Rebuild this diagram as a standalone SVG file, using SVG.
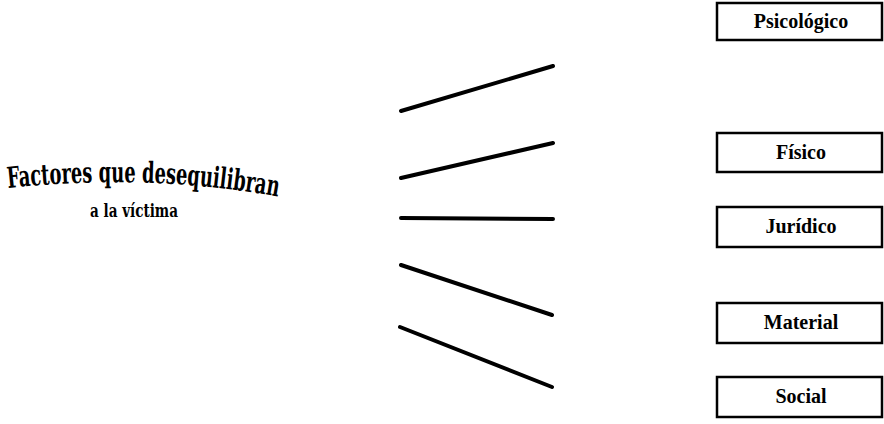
<svg xmlns="http://www.w3.org/2000/svg" width="884" height="424" viewBox="0 0 884 424">
<style>
.box{fill:#fff;stroke:#000;stroke-width:2.5}
.lbl{font-family:"Liberation Serif","DejaVu Serif",serif;font-weight:bold;font-size:20px;text-anchor:middle}
.title{font-family:"DejaVu Serif Condensed","DejaVu Serif",serif;font-weight:bold}
.conn line{stroke:#000;stroke-width:4;stroke-linecap:round}
</style>
<defs>
<path id="arc" d="M8,188 Q150,173 280,197" fill="none"/>
</defs>
<rect width="884" height="424" fill="#fff"/>
<g id="title">
<text class="title" font-size="29"><textPath href="#arc" textLength="271" lengthAdjust="spacingAndGlyphs">Factores que desequilibran</textPath></text>
<text class="title" x="90" y="217" font-size="19" textLength="88" lengthAdjust="spacingAndGlyphs">a la víctima</text>
</g>
<g id="connectors" class="conn">
<line x1="401" y1="111" x2="553" y2="66"/>
<line x1="401" y1="178" x2="553" y2="143"/>
<line x1="401" y1="218" x2="553" y2="219"/>
<line x1="401" y1="265" x2="552" y2="315"/>
<line x1="400" y1="327" x2="552" y2="387"/>
</g>
<g id="psicologico"><rect class="box" x="717" y="3" width="165" height="37"/><text class="lbl" x="801" y="28">Psicológico</text></g>
<g id="fisico"><rect class="box" x="717" y="133" width="165" height="39"/><text class="lbl" x="801" y="159">Físico</text></g>
<g id="juridico"><rect class="box" x="717" y="207" width="165" height="40"/><text class="lbl" x="801" y="233">Jurídico</text></g>
<g id="material"><rect class="box" x="717" y="303" width="165" height="40"/><text class="lbl" x="801" y="329">Material</text></g>
<g id="social"><rect class="box" x="717" y="377" width="165" height="40"/><text class="lbl" x="801" y="403">Social</text></g>
</svg>
